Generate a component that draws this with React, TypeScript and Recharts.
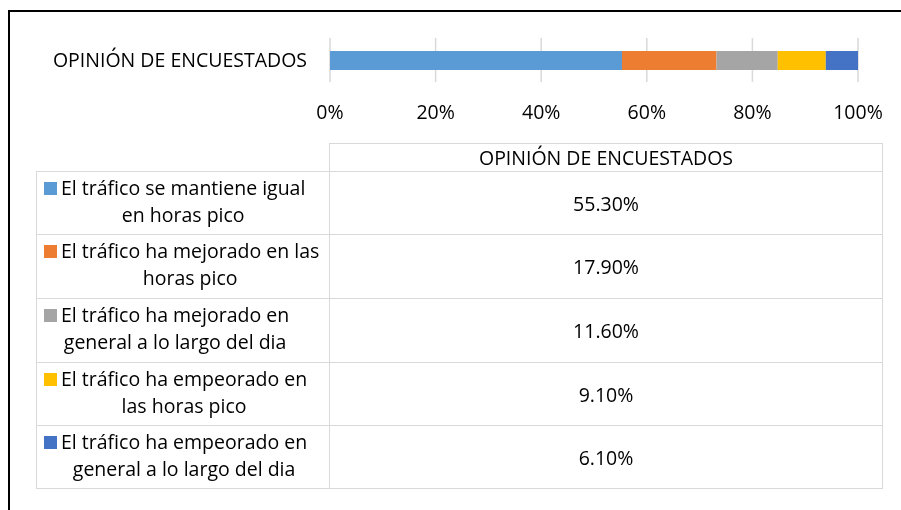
import { BarChart, Bar, XAxis, YAxis, CartesianGrid } from 'recharts';

const CATEGORY = 'OPINIÓN DE ENCUESTADOS';

const SERIES = [
  ['El tráfico se mantiene igual', 'en horas pico'],
  ['El tráfico ha mejorado en las', 'horas pico'],
  ['El tráfico ha mejorado en', 'general a lo largo del dia'],
  ['El tráfico ha empeorado en', 'las horas pico'],
  ['El tráfico ha empeorado en', 'general a lo largo del dia'],
];

const VALUES = [55.3, 17.9, 11.6, 9.1, 6.1];

const COLORS = ['#5B9BD5', '#ED7D31', '#A5A5A5', '#FFC000', '#4472C4'];

const TICKS = [0, 20, 40, 60, 80, 100];

const FONT = '"Open Sans", "Noto Sans", sans-serif';
const FS = 19.5;
const GRID = '#d9d9d9';

const row: Record<string, any> = { name: CATEGORY };
VALUES.forEach((v, i) => {
  row[`s${i}`] = v;
});
const data = [row];

// table geometry (px, relative to the wrapper)
const TABLE_LEFT = 28;
const COL_SPLIT = 321;
const TABLE_RIGHT = 875;
const HEAD_TOP = 135;
const ROW_TOPS = [163, 226, 290, 354, 417, 480];

const cell = (extra: any) => ({
  position: 'absolute' as const,
  boxSizing: 'border-box' as const,
  border: `1.5px solid ${GRID}`,
  ...extra,
});

export default function App() {
  return (
    <div
      style={{
        position: 'relative',
        width: 885,
        height: 494,
        fontFamily: FONT,
        color: '#000',
      }}
    >
      {/* frame: only top and left edges are visible in the crop */}
      <div
        style={{
          position: 'fixed',
          left: 8,
          top: 10,
          right: 0,
          bottom: 0,
          borderTop: '2px solid #000',
          borderLeft: '2px solid #000',
        }}
      />
      <div style={{ position: 'absolute', left: 0, top: 0 }}>
        <BarChart
          width={885}
          height={125}
          data={data}
          layout="vertical"
          margin={{ top: 30, right: 35, bottom: 0, left: 0 }}
        >
          <CartesianGrid horizontal={false} stroke={GRID} strokeWidth={1.5} />
          <XAxis
            type="number"
            domain={[0, 100]}
            ticks={TICKS}
            tickFormatter={(v) => `${v}%`}
            axisLine={false}
            tickLine={false}
            tickSize={0}
            tickMargin={23}
            height={51}
            tick={{ fontFamily: FONT, fontSize: FS, fill: '#000' }}
          />
          <YAxis
            type="category"
            dataKey="name"
            axisLine={false}
            tickLine={false}
            tickSize={0}
            tickMargin={23}
            width={322}
            tick={{ fontFamily: FONT, fontSize: FS, fill: '#000' }}
          />
          {VALUES.map((_, i) => (
            <Bar
              key={i}
              dataKey={`s${i}`}
              stackId="a"
              fill={COLORS[i]}
              barSize={19}
              isAnimationActive={false}
            />
          ))}
        </BarChart>
      </div>

      {/* data table */}
      <div
        style={cell({
          left: COL_SPLIT,
          top: HEAD_TOP,
          width: TABLE_RIGHT - COL_SPLIT,
          height: ROW_TOPS[0] - HEAD_TOP + 1,
          display: 'flex',
          alignItems: 'center',
          justifyContent: 'center',
          fontSize: FS,
        })}
      >
        {CATEGORY}
      </div>
      {SERIES.map((lines, i) => {
        const top = ROW_TOPS[i];
        const h = ROW_TOPS[i + 1] - top + 1;
        return (
          <div key={i}>
            <div style={cell({ left: TABLE_LEFT, top, width: COL_SPLIT - TABLE_LEFT + 1, height: h })}>
              <div
                style={{
                  position: 'absolute',
                  left: 7,
                  top: 10,
                  width: 13,
                  height: 13,
                  background: COLORS[i],
                }}
              />
              <div
                style={{
                  position: 'absolute',
                  left: 24,
                  top: 2,
                  textAlign: 'center',
                  whiteSpace: 'nowrap',
                  fontSize: FS,
                  lineHeight: '27px',
                }}
              >
                {lines[0]}
                <br />
                {lines[1]}
              </div>
            </div>
            <div
              style={cell({
                left: COL_SPLIT,
                top,
                width: TABLE_RIGHT - COL_SPLIT,
                height: h,
                display: 'flex',
                alignItems: 'center',
                justifyContent: 'center',
                fontSize: FS,
              })}
            >
              {`${VALUES[i].toFixed(2)}%`}
            </div>
          </div>
        );
      })}
    </div>
  );
}
